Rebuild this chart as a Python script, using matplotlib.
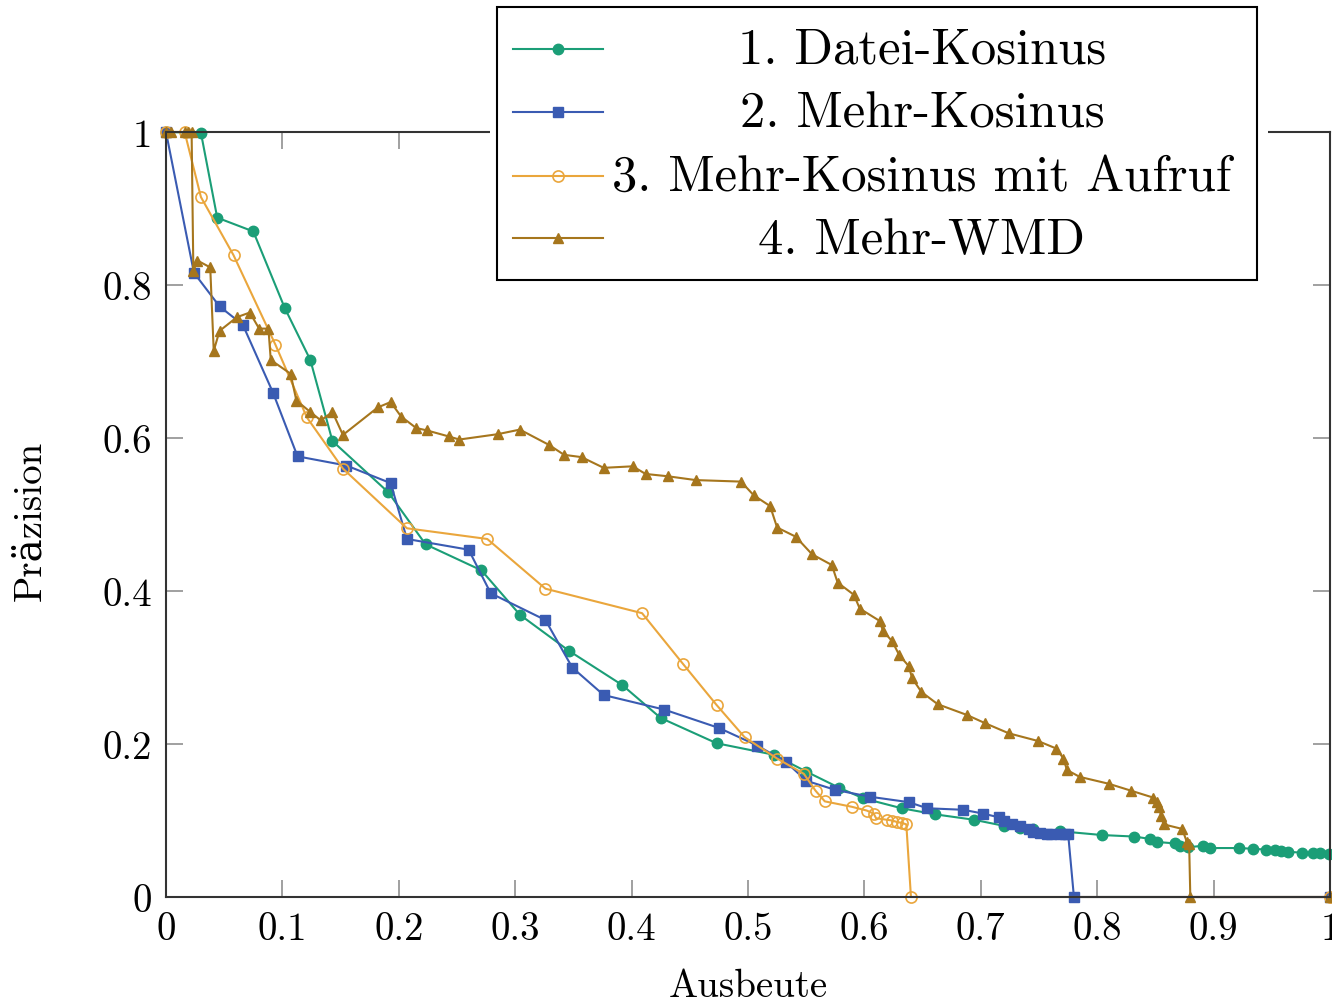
import matplotlib
matplotlib.use('Agg')
import matplotlib.pyplot as plt
from matplotlib.lines import Line2D
from matplotlib.patches import Rectangle

plt.rcParams['font.family'] = ['cmr10', 'DejaVu Serif']
plt.rcParams['axes.formatter.use_mathtext'] = True

# recall (Ausbeute) / precision (Präzision) per method
datei_x = [0.0, 0.030, 0.044, 0.075, 0.102, 0.124, 0.143, 0.191, 0.223, 0.271, 0.304,
           0.346, 0.392, 0.425, 0.473, 0.522, 0.550, 0.578, 0.599, 0.632, 0.661, 0.694,
           0.720, 0.734, 0.745, 0.768, 0.804, 0.832, 0.845, 0.851, 0.867, 0.871, 0.878,
           0.891, 0.897, 0.922, 0.934, 0.945, 0.953, 0.958, 0.964, 0.976, 0.985, 0.991, 0.999]
datei_y = [1.0, 0.999, 0.888, 0.870, 0.770, 0.702, 0.596, 0.529, 0.461, 0.427, 0.369,
           0.322, 0.277, 0.234, 0.201, 0.186, 0.164, 0.143, 0.129, 0.116, 0.108, 0.101,
           0.093, 0.090, 0.089, 0.086, 0.081, 0.079, 0.076, 0.072, 0.070, 0.067, 0.065,
           0.067, 0.064, 0.064, 0.063, 0.062, 0.061, 0.060, 0.059, 0.058, 0.058, 0.057, 0.056]

mehr_x = [0.0, 0.024, 0.046, 0.066, 0.092, 0.113, 0.155, 0.193, 0.207, 0.260, 0.279,
          0.326, 0.349, 0.376, 0.428, 0.475, 0.508, 0.533, 0.550, 0.575, 0.605, 0.638,
          0.654, 0.685, 0.702, 0.716, 0.720, 0.727, 0.734, 0.741, 0.745, 0.751, 0.757,
          0.760, 0.768, 0.772, 0.775, 0.780, 1.0]
mehr_y = [1.0, 0.816, 0.772, 0.748, 0.659, 0.576, 0.564, 0.541, 0.468, 0.454, 0.397,
          0.362, 0.300, 0.264, 0.245, 0.221, 0.198, 0.176, 0.152, 0.140, 0.131, 0.124,
          0.116, 0.114, 0.109, 0.104, 0.100, 0.095, 0.093, 0.089, 0.085, 0.084, 0.082,
          0.082, 0.083, 0.083, 0.083, 0.0, 0.0]

aufruf_x = [0.0, 0.016, 0.030, 0.058, 0.094, 0.121, 0.152, 0.207, 0.276, 0.326, 0.409,
            0.444, 0.473, 0.497, 0.525, 0.548, 0.558, 0.566, 0.589, 0.602, 0.608, 0.610,
            0.619, 0.624, 0.628, 0.632, 0.636, 0.640, 1.0]
aufruf_y = [1.0, 1.0, 0.915, 0.839, 0.722, 0.627, 0.560, 0.482, 0.468, 0.403, 0.371,
            0.305, 0.251, 0.209, 0.181, 0.161, 0.139, 0.125, 0.118, 0.113, 0.109, 0.103,
            0.101, 0.100, 0.098, 0.097, 0.095, 0.0, 0.0]

wmd_x = [0.0, 0.004, 0.016, 0.019, 0.022, 0.0235, 0.027, 0.038, 0.041, 0.046, 0.061,
         0.072, 0.080, 0.088, 0.090, 0.107, 0.112, 0.124, 0.133, 0.143, 0.152, 0.182,
         0.193, 0.202, 0.215, 0.224, 0.243, 0.252, 0.285, 0.304, 0.329, 0.342, 0.357,
         0.376, 0.401, 0.412, 0.431, 0.455, 0.494, 0.505, 0.519, 0.525, 0.541, 0.555,
         0.572, 0.577, 0.591, 0.596, 0.613, 0.616, 0.624, 0.630, 0.638, 0.641, 0.649,
         0.663, 0.688, 0.704, 0.724, 0.749, 0.765, 0.771, 0.774, 0.785, 0.810, 0.829,
         0.848, 0.851, 0.853, 0.855, 0.857, 0.873, 0.877, 0.879, 0.880, 1.0]
wmd_y = [1.0, 1.0, 1.0, 1.0, 1.0, 0.818, 0.832, 0.823, 0.714, 0.740, 0.758,
         0.764, 0.743, 0.743, 0.702, 0.684, 0.649, 0.634, 0.623, 0.634, 0.604, 0.640,
         0.647, 0.628, 0.613, 0.610, 0.602, 0.598, 0.605, 0.611, 0.591, 0.578, 0.575,
         0.561, 0.563, 0.553, 0.550, 0.545, 0.543, 0.525, 0.511, 0.483, 0.471, 0.448,
         0.434, 0.411, 0.395, 0.377, 0.361, 0.348, 0.334, 0.316, 0.302, 0.286, 0.268,
         0.252, 0.238, 0.227, 0.214, 0.204, 0.194, 0.181, 0.166, 0.157, 0.148, 0.139,
         0.130, 0.124, 0.117, 0.106, 0.095, 0.089, 0.072, 0.069, 0.0, 0.0]

labels = ['1. Datei-Kosinus', '2. Mehr-Kosinus', '3. Mehr-Kosinus mit Aufruf', '4. Mehr-WMD']
colors = ['#1b9e77', '#3a5bb2', '#eaa63c', '#a6761d']
x_ticks = [0, 0.1, 0.2, 0.3, 0.4, 0.5, 0.6, 0.7, 0.8, 0.9, 1]
x_tick_labels = ['0', '0.1', '0.2', '0.3', '0.4', '0.5', '0.6', '0.7', '0.8', '0.9', '1']
y_ticks = [0, 0.2, 0.4, 0.6, 0.8, 1]
y_tick_labels = ['0', '0.2', '0.4', '0.6', '0.8', '1']

W, H = 1332, 1004
fig = plt.figure(figsize=(W / 100, H / 100), dpi=100)
ax = fig.add_axes([166 / W, 1 - 898 / H, (1330 - 166) / W, (898 - 133) / H])

styles = [
    dict(marker='o', markersize=7.5, mfc=colors[0], mec=colors[0]),
    dict(marker='s', markersize=7.5, mfc=colors[1], mec=colors[1]),
    dict(marker='o', markersize=8, mfc='none', mec=colors[2], mew=1.2),
    dict(marker='^', markersize=7.5, mfc=colors[3], mec=colors[3]),
]
series = [(datei_x, datei_y), (mehr_x, mehr_y), (aufruf_x, aufruf_y), (wmd_x, wmd_y)]
for (xs, ys), c, st in zip(series, colors, styles):
    ax.plot(xs, ys, color=c, lw=1.5, clip_on=False, **st)

ax.set_xlim(0, 1)
ax.set_ylim(0, 1)
ax.set_xticks(x_ticks)
ax.set_xticklabels(x_tick_labels)
ax.set_yticks(y_ticks)
ax.set_yticklabels(y_tick_labels)
ax.tick_params(direction='in', top=True, right=True, length=12, width=1.3,
               color='#999999', labelsize=28, pad=10)
for sp in ax.spines.values():
    sp.set_linewidth(1.5)
    sp.set_color('#333333')

fig.text(748 / W, 1 - 997 / H, 'Ausbeute', fontsize=28, ha='center', va='baseline')
fig.text(30 / W, 1 - 521 / H, 'Präzision', fontsize=28, ha='center', va='center',
         rotation=90)

# legend box sitting over the top spine
fig.patches.append(Rectangle((490 / W, 1 - 140 / H), (1268 - 490) / W, 14 / H,
                             transform=fig.transFigure, fc='white', ec='none', zorder=5))
fig.patches.append(Rectangle((497 / W, 1 - 281 / H), (1257 - 497) / W, (281 - 8) / H,
                             transform=fig.transFigure, fc='white', ec='black', lw=1.5,
                             zorder=6))
row_y = [50, 113, 177, 239]
base_y = [64, 128, 191, 254]
for lab, c, st, ry, by in zip(labels, colors, styles, row_y, base_y):
    fig.lines.append(Line2D([513 / W, 603 / W], [1 - ry / H, 1 - ry / H], color=c, lw=1.5,
                            transform=fig.transFigure, zorder=7))
    fig.lines.append(Line2D([558 / W], [1 - ry / H], color=c, lw=0, linestyle='none',
                            transform=fig.transFigure, zorder=8, **st))
    fig.text(922 / W, 1 - by / H, lab, fontsize=36.5, ha='center', va='baseline', zorder=9)

fig.savefig('out.png', dpi=100)
